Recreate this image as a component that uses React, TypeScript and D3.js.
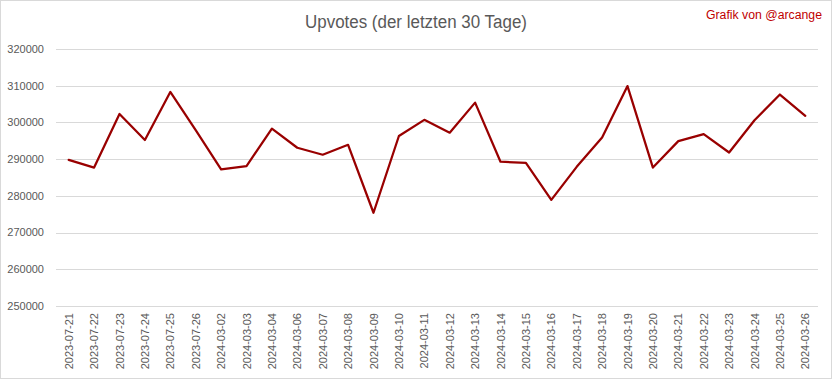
import React, { useEffect, useRef } from "react";
import * as d3 from "d3";

const categories: string[] = [
  "2023-07-21", "2023-07-22", "2023-07-23", "2023-07-24", "2023-07-25", "2023-07-26",
  "2024-03-02", "2024-03-03", "2024-03-04", "2024-03-06", "2024-03-07", "2024-03-08",
  "2024-03-09", "2024-03-10", "2024-03-11", "2024-03-12", "2024-03-13", "2024-03-14",
  "2024-03-15", "2024-03-16", "2024-03-17", "2024-03-18", "2024-03-19", "2024-03-20",
  "2024-03-21", "2024-03-22", "2024-03-23", "2024-03-24", "2024-03-25", "2024-03-26",
];

const upvotes: number[] = [
  289800, 287700, 302300, 295200, 308300, 297900,
  287200, 288100, 298300, 293100, 291200, 293900,
  275400, 296300, 300700, 297200, 305400, 289300,
  289000, 278900, 287900, 295900, 309900, 287700,
  294900, 296800, 291800, 300600, 307600, 301800,
];

const yTicks: number[] = [250000, 260000, 270000, 280000, 290000, 300000, 310000, 320000];

const W = 832;
const H = 379;

export default function App() {
  const ref = useRef<SVGSVGElement>(null);

  useEffect(() => {
    const svg = d3.select(ref.current);
    svg.selectAll("*").remove();

    const x = d3.scaleBand<string>().domain(categories).range([56, 818]);
    const y = d3.scaleLinear().domain([250000, 320000]).range([306, 49]);

    svg.append("rect")
      .attr("x", 0.5).attr("y", 0.5)
      .attr("width", W - 1).attr("height", H - 1)
      .attr("fill", "#ffffff").attr("stroke", "#d9d9d9");

    // gridlines
    svg.append("g").selectAll("line").data(yTicks).join("line")
      .attr("x1", 56).attr("x2", 818)
      .attr("y1", (d) => Math.round(y(d)) + 0.5)
      .attr("y2", (d) => Math.round(y(d)) + 0.5)
      .attr("stroke", "#d9d9d9").attr("stroke-width", 1);

    // y labels
    svg.append("g").selectAll("text").data(yTicks).join("text")
      .attr("x", 44)
      .attr("y", (d) => y(d))
      .attr("dy", "0.35em")
      .attr("text-anchor", "end")
      .attr("font-family", "Liberation Sans, Arial, sans-serif")
      .attr("font-size", 11)
      .attr("fill", "#595959")
      .text((d) => String(d));

    // x labels
    svg.append("g").selectAll("text").data(categories).join("text")
      .attr("transform", (d) => `translate(${(x(d) as number) + x.bandwidth() / 2 + 4},313) rotate(-90)`)
      .attr("text-anchor", "end")
      .attr("font-family", "Liberation Sans, Arial, sans-serif")
      .attr("font-size", 11)
      .attr("fill", "#595959")
      .text((d) => d);

    // line
    const line = d3.line<number>()
      .x((_, i) => (x(categories[i]) as number) + x.bandwidth() / 2)
      .y((d) => y(d));

    svg.append("path")
      .datum(upvotes)
      .attr("d", line)
      .attr("fill", "none")
      .attr("stroke", "#990000")
      .attr("stroke-width", 2.25)
      .attr("stroke-linejoin", "round")
      .attr("stroke-linecap", "round");

    // title
    svg.append("text")
      .attr("x", 416).attr("y", 28)
      .attr("text-anchor", "middle")
      .attr("font-family", "Liberation Sans, Arial, sans-serif")
      .attr("font-size", 18)
      .attr("textLength", 222)
      .attr("lengthAdjust", "spacingAndGlyphs")
      .attr("fill", "#595959")
      .text("Upvotes (der letzten 30 Tage)");

    svg.append("text")
      .attr("x", 822).attr("y", 19)
      .attr("text-anchor", "end")
      .attr("font-family", "Liberation Sans, Arial, sans-serif")
      .attr("font-size", 12)
      .attr("textLength", 116)
      .attr("lengthAdjust", "spacingAndGlyphs")
      .attr("fill", "#c00000")
      .text("Grafik von @arcange");
  }, []);

  return (
    <svg
      ref={ref}
      width={W}
      height={H}
      style={{ position: "absolute", left: 0, top: 0, display: "block" }}
    />
  );
}
